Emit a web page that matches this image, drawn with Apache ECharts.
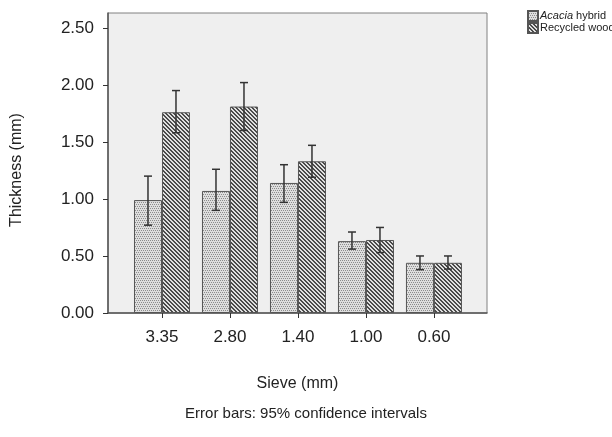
<!DOCTYPE html>
<html>
<head>
<meta charset="utf-8">
<script src="https://cdn.jsdelivr.net/npm/echarts@6/dist/echarts.min.js"></script>
<style>
html, body { margin: 0; padding: 0; background: #fff; }
#main { width: 612px; height: 437px; }
</style>
</head>
<body>
<div id="main"></div>
<script>
// sieve sizes (mm) on the x axis
var sieves = ['3.35', '2.80', '1.40', '1.00', '0.60'];
var yTicks = [0, 0.5, 1, 1.5, 2, 2.5];

// mean thickness (mm)
var acaciaMean = [0.99, 1.07, 1.14, 0.63, 0.44];
var recycledMean = [1.76, 1.81, 1.33, 0.64, 0.44];
// 95% confidence intervals
var acaciaLow = [0.77, 0.90, 0.97, 0.56, 0.38];
var acaciaHigh = [1.20, 1.26, 1.30, 0.71, 0.50];
var recycledLow = [1.58, 1.60, 1.19, 0.53, 0.385];
var recycledHigh = [1.95, 2.02, 1.47, 0.75, 0.50];

var BAR_W = 28;
var FONT = 'Liberation Sans, Arial, sans-serif';

function makePattern(w, h, bg, fg, isDark) {
	var c = document.createElement('canvas');
	c.width = w; c.height = h;
	var ctx = c.getContext('2d');
	ctx.fillStyle = bg;
	ctx.fillRect(0, 0, w, h);
	ctx.fillStyle = fg;
	for (var y = 0; y < h; y++) {
		for (var x = 0; x < w; x++) {
			if (isDark(x, y)) ctx.fillRect(x, y, 1, 1);
		}
	}
	return c;
}

// fine dotted fill for Acacia, back-slash hatch for recycled wood
var dotTile = makePattern(4, 4, '#dedede', '#8c8c8c', function(x, y){
	return (y % 2 == 0) && ((x + y / 2) % 2 == 0);
});
var hatchTile = makePattern(4, 4, '#e0e0e0', '#4a4a4a', function(x, y){
	var d = ((x - y) % 4 + 4) % 4;
	return d == 0 || d == 1;
});

function pairs(arr) {
	return arr.map(function(v, i){ return [i, v]; });
}

function errorSeries(name, low, high, shift) {
	return {
		name: name,
		type: 'custom',
		z: 10,
		silent: true,
		data: low.map(function(v, i){ return [i, v, high[i]]; }),
		renderItem: function(params, api){
			var lo = api.coord([api.value(0), api.value(1)]);
			var hi = api.coord([api.value(0), api.value(2)]);
			var x = lo[0] + shift;
			var cap = 4;
			var st = { stroke: '#333', lineWidth: 1.5 };
			return {
				type: 'group',
				children: [
					{ type: 'line', shape: { x1: x, y1: lo[1], x2: x, y2: hi[1] }, style: st },
					{ type: 'line', shape: { x1: x - cap, y1: lo[1], x2: x + cap, y2: lo[1] }, style: st },
					{ type: 'line', shape: { x1: x - cap, y1: hi[1], x2: x + cap, y2: hi[1] }, style: st }
				]
			};
		}
	};
}

var chart = echarts.init(document.getElementById('main'));
chart.setOption({
	animation: false,
	textStyle: { fontFamily: FONT },
	grid: {
		left: 108, top: 13, width: 379, height: 300,
		show: true,
		backgroundColor: '#efefef',
		borderColor: '#808080',
		borderWidth: 1
	},
	legend: {
		orient: 'vertical',
		left: 522, top: 5,
		icon: 'rect',
		itemWidth: 10, itemHeight: 10, itemGap: 0,
		data: ['Acacia hybrid', 'Recycled wood'],
		textStyle: {
			fontSize: 11, color: '#222', padding: [0, 0, 0, -3],
			rich: { i: { fontStyle: 'italic', fontSize: 11, color: '#222' } }
		},
		formatter: function(name){
			if (name == 'Acacia hybrid') return '{i|Acacia} hybrid';
			return name;
		}
	},
	xAxis: {
		type: 'value',
		min: -0.794, max: 4.78,
		name: 'Sieve (mm)',
		nameLocation: 'middle',
		nameGap: 63,
		nameTextStyle: { fontSize: 16, color: '#222' },
		axisLine: { show: true, onZero: false, lineStyle: { color: '#555', width: 1.5 } },
		axisTick: { show: true, length: 5, customValues: [0, 1, 2, 3, 4], lineStyle: { color: '#333' } },
		axisLabel: {
			customValues: [0, 1, 2, 3, 4],
			fontSize: 17, color: '#222', margin: 16,
			formatter: function(v){ return sieves[Math.round(v)]; }
		},
		splitLine: { show: false }
	},
	yAxis: {
		type: 'value',
		min: 0, max: 2.63,
		name: 'Thickness (mm)',
		nameLocation: 'middle',
		nameGap: 83,
		nameTextStyle: { fontSize: 16, color: '#222', padding: [0, 14, 0, 0] },
		axisLine: { show: true, onZero: false, lineStyle: { color: '#555', width: 1.5 } },
		axisTick: { show: true, length: 5, customValues: yTicks, lineStyle: { color: '#333' } },
		axisLabel: {
			customValues: yTicks,
			fontSize: 17, color: '#222', margin: 14,
			formatter: function(v){ return v.toFixed(2); }
		},
		splitLine: { show: false }
	},
	graphic: [{
		type: 'text',
		left: 'center', top: 406,
		style: { text: 'Error bars: 95% confidence intervals', fontSize: 15, fill: '#222', fontFamily: FONT }
	}],
	series: [
		{
			name: 'Acacia hybrid',
			type: 'bar',
			barWidth: BAR_W,
			barGap: '0%',
			data: pairs(acaciaMean),
			itemStyle: { color: { image: dotTile, repeat: 'repeat' }, borderColor: '#555', borderWidth: 1 }
		},
		{
			name: 'Recycled wood',
			type: 'bar',
			barWidth: BAR_W,
			barGap: '0%',
			data: pairs(recycledMean),
			itemStyle: { color: { image: hatchTile, repeat: 'repeat' }, borderColor: '#555', borderWidth: 1 }
		},
		errorSeries('acaciaErr', acaciaLow, acaciaHigh, -BAR_W / 2),
		errorSeries('recycledErr', recycledLow, recycledHigh, BAR_W / 2)
	]
});
</script>
</body>
</html>
